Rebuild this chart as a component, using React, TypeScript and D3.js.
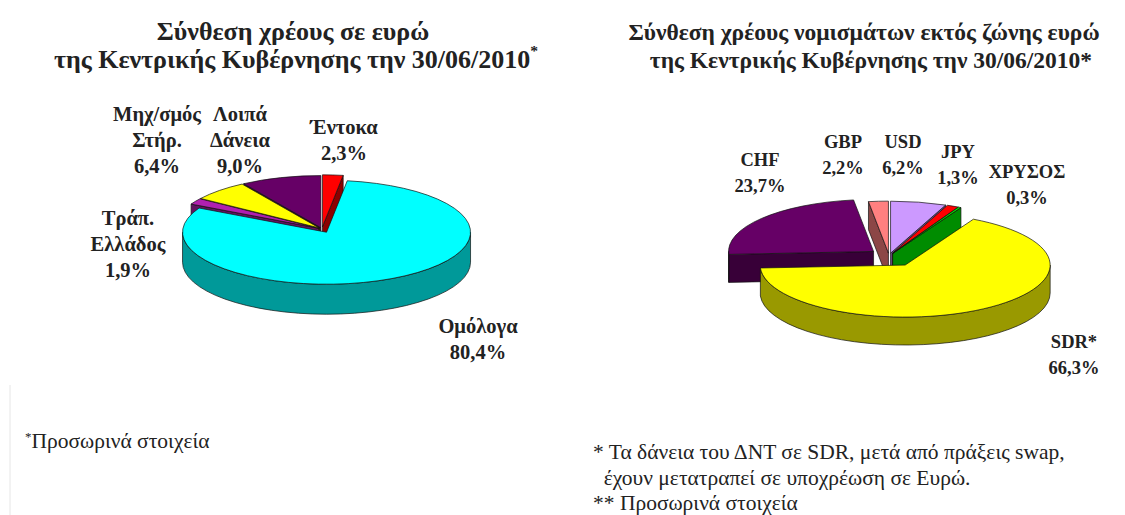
import { useEffect, useRef } from "react";
import * as d3 from "d3";

const W = 1125;
const H = 515;

// Αριστερό γράφημα: σύνθεση χρέους σε ευρώ
const euroCategories = ["Έντοκα", "Ομόλογα", "Τράπ. Ελλάδος", "Μηχ/σμός Στήρ.", "Λοιπά Δάνεια"];
const euroValues = [2.3, 80.4, 1.9, 6.4, 9.0];
const euroColors = ["#ff0000", "#00ffff", "#b020b0", "#ffff00", "#660066"];

// Δεξί γράφημα: νομίσματα εκτός ζώνης ευρώ
const fxCategories = ["USD", "JPY", "ΧΡΥΣΟΣ", "SDR*", "CHF", "GBP"];
const fxValues = [6.2, 1.3, 0.3, 66.3, 23.7, 2.2];
const fxColors = ["#cc99ff", "#ff0000", "#00ff00", "#ffff00", "#660066", "#ff8080"];

const euroTitle = ["Σύνθεση χρέους σε ευρώ", "της Κεντρικής Κυβέρνησης την 30/06/2010"];
const fxTitle = ["Σύνθεση χρέους νομισμάτων εκτός ζώνης ευρώ", "της Κεντρικής Κυβέρνησης την 30/06/2010*"];
const euroNotes = ["*Προσωρινά στοιχεία"];
const fxNotes = [
  "* Τα δάνεια του ΔΝΤ σε SDR, μετά από πράξεις swap,",
  "  έχουν μετατραπεί σε υποχρέωση σε Ευρώ.",
  "** Προσωρινά στοιχεία",
];

const SERIF = "'Liberation Serif', 'Times New Roman', 'DejaVu Serif', serif";

interface PieLayout {
  cx: number;
  cy: number;
  rx: number;
  ry: number;
  depth: number;
  explode: number[];
  labelSize: number;
  labels: [number, number][]; // κέντρο πρώτης γραμμής, σχετικά με το κέντρο της πίτας
}

const euroLayout: PieLayout = {
  cx: 322,
  cy: 229,
  rx: 144,
  ry: 52,
  depth: 30,
  explode: [6, 10, 4, 4, 4],
  labelSize: 20.5,
  labels: [
    [22, -102],
    [156, 97],
    [-194, -11],
    [-165, -115],
    [-82, -115],
  ],
};

const fxLayout: PieLayout = {
  cx: 889,
  cy: 256,
  rx: 145,
  ry: 52,
  depth: 28,
  explode: [8, 8, 8, 30, 20, 8],
  labelSize: 18.5,
  labels: [
    [14, -114],
    [69, -104],
    [138, -84],
    [185, 86],
    [-129, -96],
    [-46, -114],
  ],
};

const fmtPct = (v: number) => d3.format(".1f")(v).replace(".", ",") + "%";
const darken = (c: string, k = 0.6) => {
  const r = d3.rgb(c);
  return d3.rgb(r.r * k, r.g * k, r.b * k).formatHex();
};

function drawPie3D(
  svg: d3.Selection<SVGSVGElement, unknown, null, undefined>,
  lay: PieLayout,
  categories: string[],
  values: number[],
  colors: string[]
) {
  const g = svg.append("g");
  const arcs = d3.pie<number>().sort(null).value((d) => d)(values);
  const k = lay.ry / lay.rx;

  const slices = arcs.map((a, i) => {
    const mid = (a.startAngle + a.endAngle) / 2;
    const e = lay.explode[i] || 0;
    return {
      i,
      a0: a.startAngle,
      a1: a.endAngle,
      x: lay.cx + e * Math.sin(mid),
      y: lay.cy - e * Math.cos(mid) * k,
    };
  });

  const pt = (s: { x: number; y: number }, a: number, z = 0): [number, number] => [
    s.x + lay.rx * Math.sin(a),
    s.y - lay.ry * Math.cos(a) + z,
  ];
  const P = (p: [number, number]) => `${p[0].toFixed(2)},${p[1].toFixed(2)}`;
  const stroke = (sel: d3.Selection<SVGPathElement, unknown, null, undefined>) =>
    sel.attr("stroke", "#111").attr("stroke-width", 0.7).attr("stroke-linejoin", "round");

  // Ακτινικές πλευρές (κομμένες έδρες), από πίσω προς τα μπρος
  const faces: { d: string; y: number; color: string }[] = [];
  slices.forEach((s) => {
    const add = (a: number) => {
      const p = pt(s, a);
      const d = `M${P([s.x, s.y])} L${P(p)} L${P([p[0], p[1] + lay.depth])} L${P([s.x, s.y + lay.depth])} Z`;
      faces.push({ d, y: (s.y + p[1]) / 2, color: darken(colors[s.i], 0.55) });
    };
    if (Math.sin(s.a0) < -1e-6) add(s.a0);
    if (Math.sin(s.a1) > 1e-6) add(s.a1);
  });
  faces.sort((a, b) => a.y - b.y);
  faces.forEach((f) => stroke(g.append("path").attr("d", f.d).attr("fill", f.color)));

  // Εξωτερικά τοιχώματα (μόνο το μπροστινό μισό)
  slices.forEach((s) => {
    const st = Math.max(s.a0, Math.PI / 2);
    const en = Math.min(s.a1, (3 * Math.PI) / 2);
    if (st >= en) return;
    const p0 = pt(s, st);
    const p1 = pt(s, en);
    const d =
      `M${P(p0)} A${lay.rx},${lay.ry} 0 0 1 ${P(p1)} ` +
      `L${P([p1[0], p1[1] + lay.depth])} A${lay.rx},${lay.ry} 0 0 0 ${P([p0[0], p0[1] + lay.depth])} Z`;
    stroke(g.append("path").attr("d", d).attr("fill", darken(colors[s.i], 0.6)));
  });

  // Πάνω επιφάνειες
  slices.forEach((s) => {
    const p0 = pt(s, s.a0);
    const p1 = pt(s, s.a1);
    const large = s.a1 - s.a0 > Math.PI ? 1 : 0;
    const d = `M${P([s.x, s.y])} L${P(p0)} A${lay.rx},${lay.ry} 0 ${large} 1 ${P(p1)} Z`;
    stroke(g.append("path").attr("d", d).attr("fill", colors[s.i]));
  });

  // Ετικέτες
  categories.forEach((c, i) => {
    const lines = [...c.split(" "), fmtPct(values[i])];
    const [dx, dy] = lay.labels[i];
    const t = g
      .append("text")
      .attr("text-anchor", "middle")
      .attr("font-family", SERIF)
      .attr("font-weight", 700)
      .attr("font-size", lay.labelSize)
      .attr("fill", "#222");
    lines.forEach((l, j) => {
      t.append("tspan")
        .attr("x", lay.cx + dx)
        .attr("y", lay.cy + dy + j * 26)
        .attr("dominant-baseline", "central")
        .text(l);
    });
  });
}

function drawTitle(
  svg: d3.Selection<SVGSVGElement, unknown, null, undefined>,
  lines: string[],
  x1: number,
  x2: number,
  size: number,
  supStar: boolean
) {
  const t = svg
    .append("text")
    .attr("text-anchor", "middle")
    .attr("font-family", SERIF)
    .attr("font-weight", 700)
    .attr("font-size", size)
    .attr("fill", "#222");
  t.append("tspan").attr("x", x1).attr("y", 40).text(lines[0]);
  t.append("tspan").attr("x", x2).attr("y", 68).text(lines[1]);
  if (supStar) {
    t.append("tspan").attr("font-size", size * 0.6).attr("dy", -12).text("*");
  }
}

export default function App() {
  const svgRef = useRef<SVGSVGElement>(null);

  useEffect(() => {
    document.body.style.margin = "0";
    if (!svgRef.current) return;
    const svg = d3.select(svgRef.current);
    svg.selectAll("*").remove();

    svg.append("rect").attr("width", W).attr("height", H).attr("fill", "#fff");

    // λεπτή γραμμή στο αριστερό άκρο
    svg
      .append("line")
      .attr("x1", 10)
      .attr("x2", 10)
      .attr("y1", 385)
      .attr("y2", H)
      .attr("stroke", "#e6e6e6")
      .attr("stroke-width", 1);

    drawTitle(svg, euroTitle, 293, 296, 26, true);
    drawTitle(svg, fxTitle, 864, 871, 23.5, false);

    drawPie3D(svg, euroLayout, euroCategories, euroValues, euroColors);
    drawPie3D(svg, fxLayout, fxCategories, fxValues, fxColors);

    const notes = svg
      .append("g")
      .attr("font-family", SERIF)
      .attr("font-size", 21.5)
      .attr("fill", "#222");
    const n1 = notes.append("text").attr("x", 25).attr("y", 448);
    n1.append("tspan").attr("font-size", 13).attr("dy", -7).text("*");
    n1.append("tspan").attr("dy", 7).text(euroNotes[0].slice(1));

    fxNotes.forEach((n, i) => {
      notes
        .append("text")
        .attr("x", 593)
        .attr("y", 459 + i * 25.5)
        .attr("xml:space", "preserve")
        .style("white-space", "pre")
        .text(n);
    });
  }, []);

  return <svg ref={svgRef} width={W} height={H} viewBox={`0 0 ${W} ${H}`} style={{ display: "block" }} />;
}
